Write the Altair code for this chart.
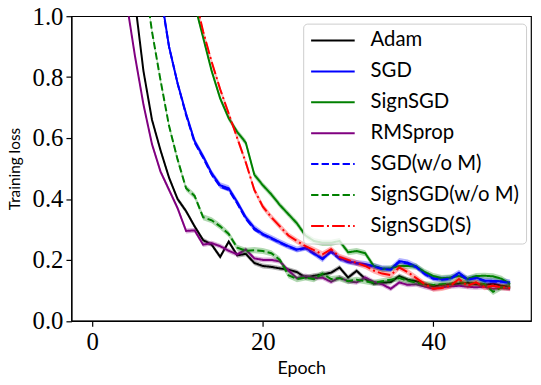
import altair as alt
import pandas as pd

epochs = list(range(50))
series_names = ["Adam", "SGD", "SignSGD", "RMSprop", "SGD(w/o M)", "SignSGD(w/o M)", "SignSGD(S)"]

adam = [2.30, 2.00, 1.75, 1.50, 1.25, 1.05, 0.82, 0.66, 0.56, 0.47,
        0.40, 0.36, 0.31, 0.265, 0.25, 0.21, 0.26, 0.215, 0.22, 0.19,
        0.18, 0.177, 0.172, 0.168, 0.16, 0.142, 0.148, 0.152, 0.158, 0.175,
        0.142, 0.164, 0.138, 0.122, 0.125, 0.127, 0.147, 0.135, 0.13, 0.12,
        0.113, 0.118, 0.12, 0.122, 0.125, 0.12, 0.118, 0.122, 0.115, 0.112]
sgd = [2.95, 2.70, 2.45, 2.20, 1.95, 1.70, 1.45, 1.25, 1.08, 0.90,
       0.78, 0.68, 0.59, 0.54, 0.485, 0.445, 0.435, 0.39, 0.34, 0.305,
       0.285, 0.272, 0.258, 0.245, 0.234, 0.24, 0.222, 0.202, 0.229, 0.205,
       0.195, 0.19, 0.186, 0.18, 0.172, 0.17, 0.196, 0.191, 0.178, 0.155,
       0.14, 0.137, 0.14, 0.158, 0.137, 0.142, 0.132, 0.131, 0.13, 0.126]
signsgd = [4.0, 3.6, 3.2, 2.9, 2.6, 2.3, 2.05, 1.8, 1.6, 1.42,
           1.27, 1.15, 1.04, 0.93, 0.82, 0.73, 0.665, 0.62, 0.585, 0.48,
           0.445, 0.415, 0.38, 0.35, 0.32, 0.28, 0.262, 0.256, 0.256, 0.262,
           0.225, 0.229, 0.222, 0.18, 0.17, 0.172, 0.18, 0.18, 0.178, 0.16,
           0.147, 0.14, 0.142, 0.147, 0.138, 0.147, 0.148, 0.146, 0.138, 0.12]
rmsprop = [2.10, 1.80, 1.55, 1.30, 1.05, 0.87, 0.71, 0.58, 0.49, 0.43,
           0.37, 0.295, 0.297, 0.25, 0.255, 0.245, 0.23, 0.218, 0.234, 0.205,
           0.20, 0.20, 0.195, 0.165, 0.14, 0.147, 0.14, 0.142, 0.128, 0.142,
           0.13, 0.126, 0.142, 0.128, 0.12, 0.105, 0.126, 0.118, 0.12, 0.112,
           0.105, 0.11, 0.113, 0.115, 0.112, 0.11, 0.112, 0.105, 0.108, 0.105]
sgd_nom = [2.90, 2.66, 2.42, 2.18, 1.93, 1.68, 1.44, 1.24, 1.07, 0.90,
           0.78, 0.675, 0.585, 0.535, 0.48, 0.44, 0.43, 0.385, 0.335, 0.30,
           0.283, 0.27, 0.256, 0.243, 0.232, 0.238, 0.22, 0.205, 0.226, 0.203,
           0.193, 0.188, 0.184, 0.178, 0.17, 0.168, 0.193, 0.188, 0.176, 0.153,
           0.138, 0.135, 0.138, 0.155, 0.135, 0.14, 0.13, 0.129, 0.128, 0.124]
signsgd_nom = [2.8, 2.5, 2.2, 1.9, 1.65, 1.4, 1.15, 0.95, 0.79, 0.64,
               0.53, 0.435, 0.41, 0.34, 0.33, 0.31, 0.285, 0.24, 0.23, 0.232,
               0.229, 0.222, 0.2, 0.15, 0.137, 0.142, 0.137, 0.155, 0.137, 0.14,
               0.13, 0.135, 0.13, 0.125, 0.13, 0.135, 0.14, 0.132, 0.125, 0.12,
               0.118, 0.12, 0.122, 0.128, 0.122, 0.125, 0.12, 0.095, 0.11, 0.112]
signsgd_s = [4.2, 3.8, 3.4, 3.0, 2.7, 2.4, 2.15, 1.9, 1.7, 1.5,
             1.33, 1.2, 1.07, 0.95, 0.85, 0.76, 0.68, 0.60, 0.52, 0.43,
             0.375, 0.34, 0.31, 0.28, 0.262, 0.245, 0.232, 0.218, 0.235, 0.21,
             0.2, 0.19, 0.18, 0.165, 0.155, 0.15, 0.175, 0.16, 0.14, 0.12,
             0.105, 0.108, 0.115, 0.137, 0.115, 0.126, 0.11, 0.115, 0.11, 0.108]

values = [adam, sgd, signsgd, rmsprop, sgd_nom, signsgd_nom, signsgd_s]
spread = [0.008, 0.01, 0.01, 0.008, 0.006, 0.01, 0.01]

colors = ["#000000", "#0000ff", "#008000", "#800080", "#0000ff", "#008000", "#ff0000"]
dashes = [[1, 0], [1, 0], [1, 0], [1, 0], [7.4, 3.2], [7.4, 3.2], [12.8, 3.2, 2, 3.2]]

rows = []
for name, vals, sd in zip(series_names, values, spread):
    for e, v in zip(epochs, vals):
        rows.append({"epoch": e, "loss": v, "lo": v - sd, "hi": v + sd, "series": name})
df = pd.DataFrame(rows)

xscale = alt.Scale(domain=[-2.45, 51.45], nice=False, zero=False)
yscale = alt.Scale(domain=[0, 1], nice=False)
cscale = alt.Scale(domain=series_names, range=colors)
dscale = alt.Scale(domain=series_names, range=dashes)

layers = []
for name, col in zip(series_names, colors):
    base = alt.Chart(df).transform_filter(alt.datum.series == name)
    band = base.mark_area(opacity=0.3, clip=True, color=col).encode(
        x=alt.X("epoch:Q", scale=xscale),
        y=alt.Y("lo:Q", scale=yscale),
        y2="hi:Q",
    )
    line = base.mark_line(strokeWidth=2, clip=True).encode(
        x=alt.X("epoch:Q", scale=xscale,
                axis=alt.Axis(values=[0, 20, 40], title="Epoch", format="d")),
        y=alt.Y("loss:Q", scale=yscale,
                axis=alt.Axis(values=[0, 0.2, 0.4, 0.6, 0.8, 1.0], format=".1f",
                              title="Training loss")),
        color=alt.Color("series:N", scale=cscale, sort=series_names,
                        legend=alt.Legend(title=None)),
        strokeDash=alt.StrokeDash("series:N", scale=dscale, sort=series_names,
                                  legend=alt.Legend(title=None)),
    )
    layers.append(band)
    layers.append(line)

chart = alt.layer(*layers).properties(
    width=464, height=307.5,
    autosize=alt.AutoSizeParams(type="none"),
    padding={"left": 64, "top": 6.5, "right": 2, "bottom": 62},
).configure_view(
    stroke="black", strokeWidth=1.2
).configure_axis(
    grid=False, domainColor="black", domainWidth=1.2,
    tickColor="black", tickWidth=1.2, tickSize=5.5,
    labelFont="Liberation Serif", labelFontSize=25, labelColor="black", labelPadding=3,
    titleFont="Lato", titleFontWeight="normal", titleColor="black",
).configure_axisY(
    titlePadding=10, titleFontSize=15.5
).configure_axisX(
    titlePadding=6, titleFontSize=18
).configure_legend(
    orient="none", legendX=234, legendY=7.5,
    symbolType="stroke", symbolSize=1936, symbolStrokeWidth=2,
    labelFont="Lato", labelFontSize=20.5, labelColor="black", labelOffset=15, labelLimit=400,
    fillColor="rgba(255,255,255,0.8)", strokeColor="#cccccc", cornerRadius=4,
    padding=7, rowPadding=10.2, clipHeight=20,
)

chart.save("out.html", embed_options={"renderer": "svg", "actions": False})
